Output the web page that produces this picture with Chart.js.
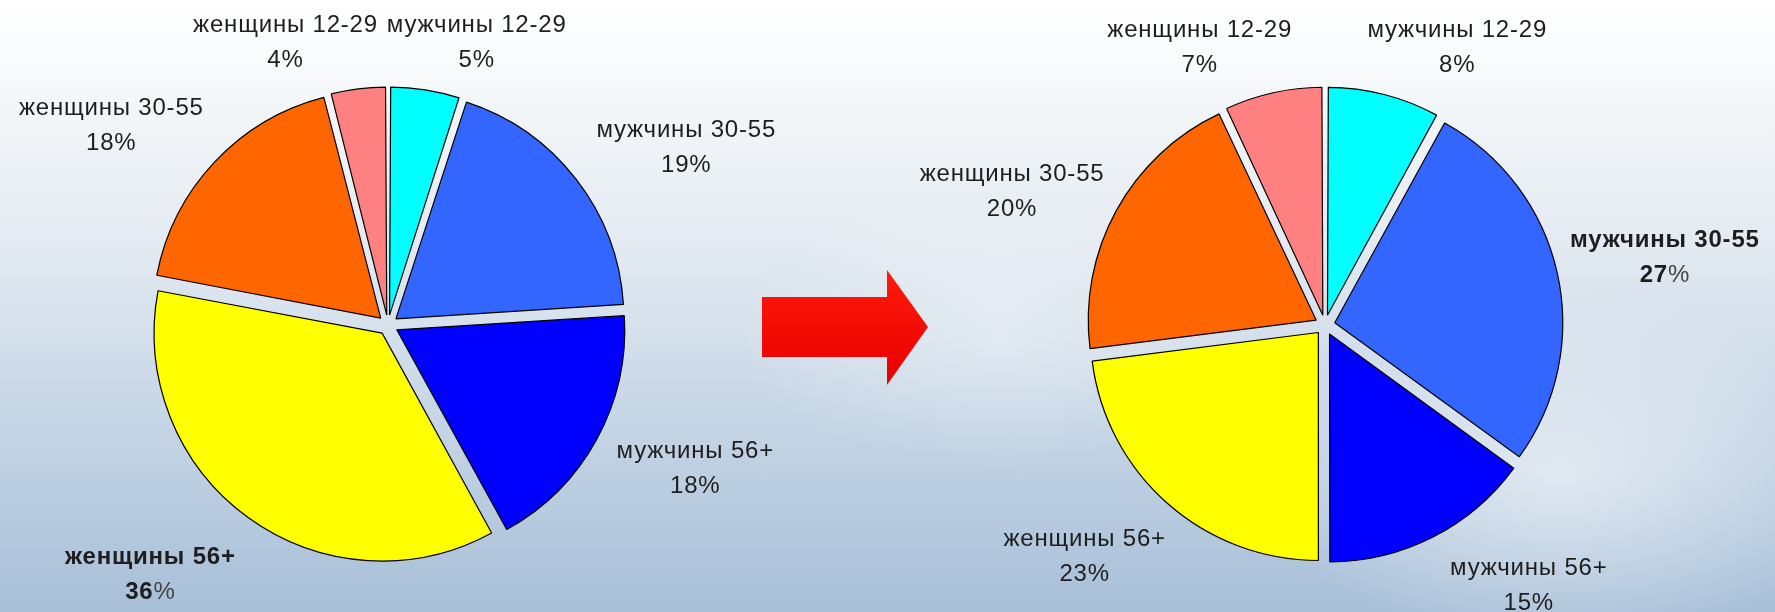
<!DOCTYPE html>
<html>
<head>
<meta charset="utf-8">
<script src="https://cdn.jsdelivr.net/npm/chart.js@4.4.1/dist/chart.umd.min.js"></script>
<style>
html,body{margin:0;padding:0;width:1775px;height:612px;overflow:hidden;}
body{position:relative;background:
  radial-gradient(ellipse 430px 260px at 1560px 470px, rgba(255,255,255,0.55), rgba(255,255,255,0) 70%),
  radial-gradient(ellipse 380px 200px at 1000px 330px, rgba(255,255,255,0.35), rgba(255,255,255,0) 70%),
  linear-gradient(180deg,#ffffff 0%,#f4f7f9 16%,#e3eaf1 40%,#c8d7e6 66%,#a8bfd8 100%);}
#left{position:absolute;left:0;top:0;}
#right{position:absolute;left:875px;top:0;}
#arrow{position:absolute;left:0;top:0;pointer-events:none;}
</style>
</head>
<body>
<canvas id="left" width="800" height="612"></canvas>
<canvas id="right" width="900" height="612"></canvas>
<svg id="arrow" width="1775" height="612" xmlns="http://www.w3.org/2000/svg">
  <defs>
    <linearGradient id="ag" x1="0" y1="0" x2="0" y2="1">
      <stop offset="0" stop-color="#ff1a0a"/>
      <stop offset="1" stop-color="#e80000"/>
    </linearGradient>
  </defs>
  <polygon points="762,297 887,297 887,270 928,327 887,385 887,357 762,357" fill="url(#ag)"/>
</svg>
<script>
// ---------- data ----------
const categories = ['мужчины 12-29', 'мужчины 30-55', 'мужчины 56+', 'женщины 56+', 'женщины 30-55', 'женщины 12-29'];
const sharesBefore = [5, 19, 18, 36, 18, 4];
const sharesAfter  = [8, 27, 15, 23, 20, 7];

// ---------- styling / layout config ----------
const sliceColors = ['#00FFFF', '#3366FF', '#0000FF', '#FFFF00', '#FF6600', '#FF8080'];
const EXPLODE = 10;      // px each slice is pulled out
const RADIUS = 228;
const LABEL_GAP = 8;
const FONT_SIZE = 24;
const LINE_GAP = 35;
const FONT_FAMILY = '"Liberation Sans", Arial, sans-serif';
const boldBefore = [3];
const boldAfter = [1];
const nudgeBefore = [[36,-9],[14,-3],[13,9],[-31,21],[-5,-3],[-60,-8]];
const nudgeAfter  = [[48,-9],[5,-7],[52,12],[-6,17],[-5,2],[-51,-7]];

function sliceFix(ds, i){
  const total = ds.data.reduce((a,b)=>a+b,0);
  const circ = ds.data[i]/total*2*Math.PI;
  return 1 - Math.sin(Math.min(Math.PI, circ));
}

// keep exploded slices at one common radius (Chart.js enlarges small exploded arcs)
const evenExplode = {
  id:'evenExplode',
  afterDatasetUpdate(chart){
    const meta = chart.getDatasetMeta(0);
    const ds = chart.data.datasets[0];
    meta.data.forEach((arc,i)=>{
      arc.outerRadius = meta.controller.outerRadius - EXPLODE*sliceFix(ds,i);
    });
  }
};

const sliceLabels = {
  id:'sliceLabels',
  afterDatasetsDraw(chart, args, opts){
    const ctx = chart.ctx;
    const meta = chart.getDatasetMeta(0);
    const ds = chart.data.datasets[0];
    const R = meta.controller.outerRadius;
    meta.data.forEach((arc,i)=>{
      const p = arc.getProps(['x','y','startAngle','endAngle'], true);
      const mid = (p.startAngle + p.endAngle)/2;
      const ux = Math.cos(mid), uy = Math.sin(mid);
      const reach = R + EXPLODE + LABEL_GAP;
      const px = p.x + ux*reach, py = p.y + uy*reach;
      const bold = opts.bold.includes(i);
      const name = chart.data.labels[i];
      ctx.save();
      ctx.fillStyle = '#1e1e1e';
      ctx.textBaseline = 'middle';
      ctx.textAlign = 'left';
      try { ctx.letterSpacing = '0.8px'; } catch(e) {}
      const fB = 'bold ' + FONT_SIZE + 'px ' + FONT_FAMILY;
      const fR = FONT_SIZE + 'px ' + FONT_FAMILY;
      ctx.font = bold ? fB : fR;
      const w = ctx.measureText(name).width;
      const hw = w/2, hh = LINE_GAP/2 + FONT_SIZE*0.52;
      const m = Math.max(Math.abs(ux), Math.abs(uy));
      const n = opts.nudge[i];
      const cx = px + hw*ux/m + n[0];
      const cy = py + hh*uy/m + n[1];
      ctx.fillText(name, cx - w/2, cy - LINE_GAP/2);
      // second line: value, number part bold when emphasised, % sign regular
      const num = String(ds.data[i]);
      ctx.font = bold ? fB : fR;
      const wn = ctx.measureText(num).width;
      ctx.font = fR;
      const wp = ctx.measureText('%').width;
      const x0 = cx - (wn+wp)/2;
      ctx.font = bold ? fB : fR;
      ctx.fillText(num, x0, cy + LINE_GAP/2);
      ctx.font = fR;
      if (bold) ctx.fillStyle = '#444';
      ctx.fillText('%', x0 + wn, cy + LINE_GAP/2);
      ctx.restore();
    });
  }
};

function makePie(id, values, bold, nudge, padding){
  return new Chart(document.getElementById(id), {
    type:'pie',
    data:{
      labels: categories,
      datasets:[{
        data: values,
        backgroundColor: sliceColors,
        borderColor:'#000000',
        borderWidth:1.2,
        offset: c => 4*EXPLODE
      }]
    },
    options:{
      responsive:false,
      animation:false,
      radius: RADIUS,
      layout:{padding: padding},
      events: [],
      plugins:{
        legend:{display:false},
        tooltip:{enabled:false},
        sliceLabels:{bold: bold, nudge: nudge}
      }
    },
    plugins:[evenExplode, sliceLabels]
  });
}

makePie('left', sharesBefore, boldBefore, nudgeBefore, {top:38, right:24, left:0, bottom:0});
makePie('right', sharesAfter, boldAfter, nudgeAfter, {top:38, right:0, left:0, bottom:0});
</script>
</body>
</html>
